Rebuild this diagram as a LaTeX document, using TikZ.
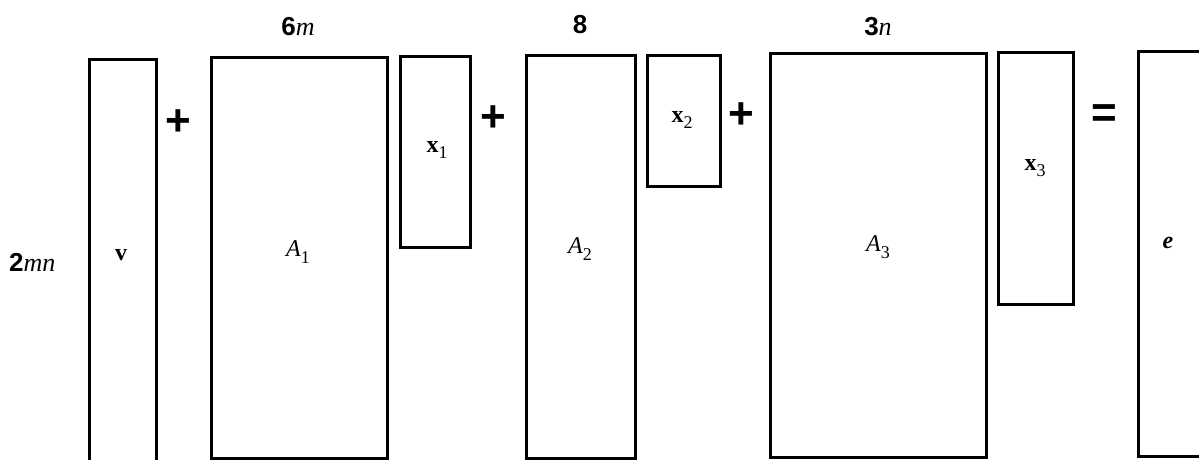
\documentclass[tikz,border=0pt]{standalone}
\usepackage{fontspec}
\setmainfont{Liberation Serif}
\newfontfamily\numfont{Liberation Sans}
\newcommand\lowidx[1]{\raisebox{-0.28em}{\fontsize{18}{18}\selectfont\upshape\mdseries #1}}
\begin{document}
\begin{tikzpicture}[x=1pt,y=-1pt,
  mat/.style={draw=black,line width=3pt,minimum width=#1,inner sep=0pt,anchor=north west},
  lbl/.style={inner sep=0pt,font=\fontsize{24}{24}\selectfont},
  dim/.style={inner sep=0pt,font=\fontsize{26}{26}\selectfont},
  op/.style={inner sep=0pt,font=\numfont\bfseries\fontsize{44}{44}\selectfont}]
\useasboundingbox (0,0) rectangle (1199,460);
\clip (0,0) rectangle (1199,460);
% block matrices: v + A1 x1 + A2 x2 + A3 x3 = e
\node[mat=67pt,minimum height=412pt]  (v)  at (88,58)   {};
\node[mat=176pt,minimum height=401pt] (A1) at (210,56)  {};
\node[mat=70pt,minimum height=191pt]  (x1) at (399,55)  {};
\node[mat=109pt,minimum height=403pt] (A2) at (525,54)  {};
\node[mat=73pt,minimum height=131pt]  (x2) at (646,54)  {};
\node[mat=216pt,minimum height=404pt] (A3) at (769,52)  {};
\node[mat=75pt,minimum height=252pt]  (x3) at (997,51)  {};
\node[mat=80pt,minimum height=405pt]  (e)  at (1137,50) {};
% entries
\node[lbl] (tv)  at (121,255)  {\bfseries v};
\node[lbl] (tA1) at (298,252)  {\itshape A\lowidx{1}};
\node[lbl] (tx1) at (437,150)  {\bfseries x\lowidx{1}};
\node[lbl] (tA2) at (580,249)  {\itshape A\lowidx{2}};
\node[lbl] (tx2) at (682,120)  {\bfseries x\lowidx{2}};
\node[lbl] (tA3) at (878,247)  {\itshape A\lowidx{3}};
\node[lbl] (tx3) at (1035,168) {\bfseries x\lowidx{3}};
\node[lbl] (te)  at (1168,243) {\bfseries\itshape e};
% dimensions
\node[dim] (d6m) at (298,27)   {{\numfont\bfseries 6}\textit{m}};
\node[dim] (d8)  at (580,25)   {\numfont\bfseries 8};
\node[dim] (d3n) at (878,27)   {{\numfont\bfseries 3}\textit{n}};
\node[dim,anchor=west] (d2mn) at (9,262) {{\numfont\bfseries 2}\textit{mn}};
% operators
\node[op] (p1) at (178,123) {+};
\node[op] (p2) at (493,119) {+};
\node[op] (p3) at (741,116) {+};
\node[op] (eq) at (1104,116) {=};
\end{tikzpicture}
\end{document}
